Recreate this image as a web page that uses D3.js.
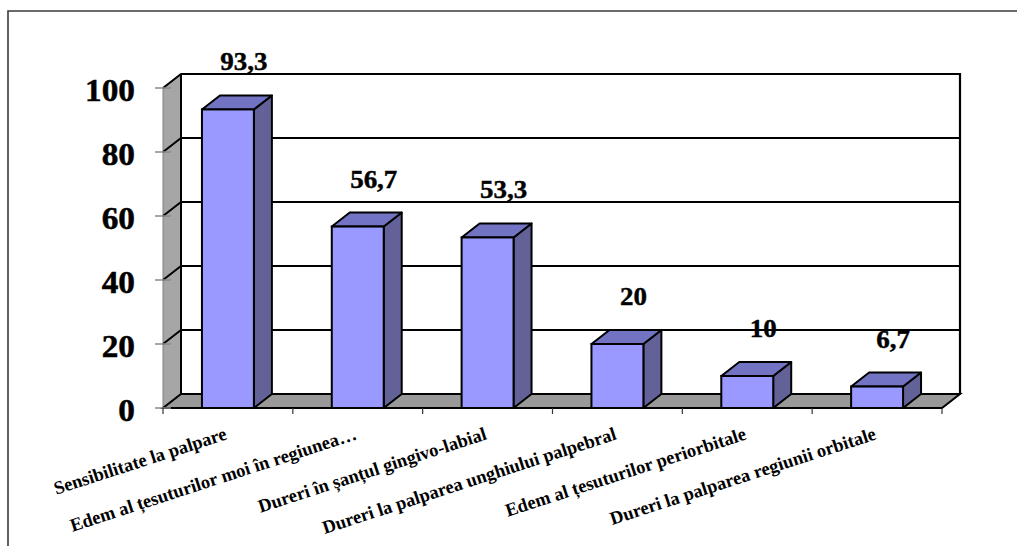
<!DOCTYPE html>
<html>
<head>
<meta charset="utf-8">
<script src="https://cdn.jsdelivr.net/npm/d3@7"></script>
<style>
  html, body { margin: 0; padding: 0; background: #fff; }
  svg { display: block; }
  text { font-family: "Liberation Serif", "Times New Roman", serif; font-weight: bold; fill: #000; }
</style>
</head>
<body>
<svg id="chart" width="1017" height="546"></svg>
<script>
// ---- data ----
const categories = [
  "Sensibilitate la palpare",
  "Edem al țesuturilor  moi în regiunea…",
  "Dureri în șanțul gingivo-labial",
  "Dureri la palparea unghiului palpebral",
  "Edem al țesuturilor periorbitale",
  "Dureri la palparea regiunii orbitale"
];
const values = [93.3, 56.7, 53.3, 20, 10, 6.7];
const valueLabels = ["93,3", "56,7", "53,3", "20", "10", "6,7"];
const yTicks = [0, 20, 40, 60, 80, 100];

(function () {
// ---- layout ----
const W = 1017, H = 546;
const pLeft = 163, pRight = 942, pBottom = 408, pTop = 88;
const dx = 18, dy = -14;          // 3D depth offset
const svg = d3.select("#chart");
const serif = "'Liberation Serif', 'Times New Roman', serif";

const x = d3.scaleBand().domain(categories).range([pLeft, pRight])
  .paddingInner(0.6).paddingOuter(0.3);
const y = d3.scaleLinear().domain([0, 100]).range([pBottom, pTop]);

const line = d3.line();

// outer border
svg.append("path")
  .attr("d", line([[8, H + 2], [8, 11], [W + 2, 11]]))
  .attr("fill", "none").attr("stroke", "#3a3a3a").attr("stroke-width", 1.6);

// left wall
svg.append("path")
  .attr("d", line([[pLeft, y(100)], [pLeft + dx, y(100) + dy], [pLeft + dx, y(0) + dy], [pLeft, y(0)]]) + "Z")
  .attr("fill", "#a6a6a6").attr("stroke", "#808080").attr("stroke-width", 1);

// back wall
svg.append("rect")
  .attr("x", pLeft + dx).attr("y", y(100) + dy)
  .attr("width", pRight - pLeft).attr("height", y(0) - y(100))
  .attr("fill", "#fff");
svg.append("path")
  .attr("d", line([[pLeft + dx, y(100) + dy], [pRight + dx, y(100) + dy], [pRight + dx, y(0) + dy]]))
  .attr("fill", "none").attr("stroke", "#000").attr("stroke-width", 2.2);

// gridlines (left wall diagonal + back wall)
svg.append("g").selectAll("path")
  .data(yTicks.filter(v => v > 0))
  .join("path")
  .attr("d", v => line([[pLeft, y(v)], [pLeft + dx, y(v) + dy], [pRight + dx, y(v) + dy]]))
  .attr("fill", "none").attr("stroke", "#000").attr("stroke-width", 2);

// floor
svg.append("path")
  .attr("d", line([[pLeft, y(0)], [pRight, y(0)], [pRight + dx, y(0) + dy], [pLeft + dx, y(0) + dy]]) + "Z")
  .attr("fill", "#999999").attr("stroke", "#000").attr("stroke-width", 2).attr("stroke-linejoin", "miter");

// back wall left edge
svg.append("line")
  .attr("x1", pLeft + dx).attr("x2", pLeft + dx)
  .attr("y1", y(100) + dy).attr("y2", y(0) + dy)
  .attr("stroke", "#000").attr("stroke-width", 2);

// y tick marks
svg.append("g").selectAll("line")
  .data(yTicks).join("line")
  .attr("x1", pLeft - 8).attr("x2", pLeft + 8)
  .attr("y1", d => y(d)).attr("y2", d => y(d))
  .attr("stroke", "#8a8a8a").attr("stroke-width", 1.5);

// x tick marks at category boundaries
const bounds = d3.range(categories.length + 1).map(i => pLeft + i * x.step());
svg.append("g").selectAll("line")
  .data(bounds).join("line")
  .attr("x1", d => d).attr("x2", d => d)
  .attr("y1", pBottom).attr("y2", pBottom + 6)
  .attr("stroke", "#333").attr("stroke-width", 1.2);

// bars
const bw = x.bandwidth();
const bars = svg.append("g").selectAll("g")
  .data(values.map((v, i) => ({ v, c: categories[i], lab: valueLabels[i] })))
  .join("g");

bars.append("path") // side
  .attr("d", d => {
    const x1 = x(d.c) + bw, yt = y(d.v);
    return line([[x1, yt], [x1 + dx, yt + dy], [x1 + dx, y(0) + dy], [x1, y(0)]]) + "Z";
  })
  .attr("fill", "#626299").attr("stroke", "#000").attr("stroke-width", 2).attr("stroke-linejoin", "round");

bars.append("path") // top
  .attr("d", d => {
    const x0 = x(d.c), yt = y(d.v);
    return line([[x0, yt], [x0 + dx, yt + dy], [x0 + bw + dx, yt + dy], [x0 + bw, yt]]) + "Z";
  })
  .attr("fill", "#7373c4").attr("stroke", "#000").attr("stroke-width", 2).attr("stroke-linejoin", "round");

bars.append("rect") // front
  .attr("x", d => x(d.c)).attr("y", d => y(d.v))
  .attr("width", bw).attr("height", d => y(0) - y(d.v))
  .attr("fill", "#9999ff").attr("stroke", "#000").attr("stroke-width", 2);

// value labels
bars.append("text")
  .attr("transform", d => `translate(${x(d.c) + bw / 2 + 16},${y(d.v) + dy - 25}) scale(1.08,1)`)
  .attr("text-anchor", "middle")
  .style("font-family", serif)
  .style("font-weight", "bold")
  .style("font-size", "25px")
  .style("stroke", "#000").style("stroke-width", 0.4)
  .text(d => d.lab);

// y axis labels
const yAxis = svg.append("g")
  .attr("transform", `translate(${pLeft},0)`)
  .call(d3.axisLeft(y).tickValues(yTicks).tickSize(0).tickFormat(d3.format("d")));
yAxis.select(".domain").remove();
yAxis.selectAll("text")
  .attr("x", 0).attr("dy", null)
  .attr("transform", "translate(-28,12) scale(1.04,1)")
  .attr("text-anchor", "end")
  .style("font-family", serif)
  .style("font-weight", "bold")
  .style("font-size", "32px")
  .style("stroke", "#000").style("stroke-width", 0.5);

// x axis labels
const xAxis = svg.append("g")
  .attr("transform", `translate(0,${pBottom})`)
  .call(d3.axisBottom(x).tickSize(0));
xAxis.select(".domain").remove();
xAxis.selectAll("text")
  .attr("y", 0).attr("dy", null)
  .attr("text-anchor", "end")
  .attr("transform", "translate(0,31) rotate(-18)")
  .style("font-family", serif)
  .style("font-weight", "bold")
  .style("font-size", "18.5px");
})();
</script>
</body>
</html>
